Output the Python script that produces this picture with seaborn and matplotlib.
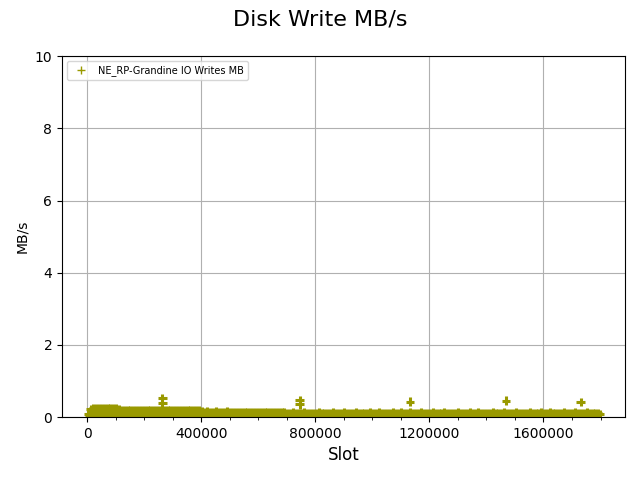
import numpy as np
import pandas as pd
import matplotlib
matplotlib.use("Agg")
import matplotlib.pyplot as plt
import seaborn as sns
from matplotlib.ticker import AutoMinorLocator, MultipleLocator

# Sampled slots: upper edge of the write band every 10000 slots,
# lower edge sampled in between (offset by 5000 slots)
slots_upper = np.arange(2000, 1800000, 10000)
slots_lower = slots_upper + 5000

writes_upper = [
    0.10, 0.22, 0.25, 0.24, 0.25, 0.26, 0.24, 0.25, 0.24, 0.25,
    0.24, 0.21, 0.20, 0.20, 0.19, 0.20, 0.20, 0.19, 0.20, 0.20,
    0.19, 0.20, 0.19, 0.20, 0.20, 0.19, 0.20, 0.19, 0.19, 0.20,
    0.19, 0.19, 0.20, 0.19, 0.19, 0.18, 0.19, 0.19, 0.18, 0.19,
    0.16, 0.15, 0.16, 0.15, 0.15, 0.16, 0.15, 0.15, 0.15, 0.16,
    0.15, 0.15, 0.15, 0.14, 0.15, 0.15, 0.14, 0.15, 0.15, 0.14,
    0.15, 0.14, 0.14, 0.15, 0.14, 0.14, 0.15, 0.14, 0.14, 0.14,
    0.12, 0.12, 0.13, 0.12, 0.12, 0.12, 0.13, 0.12, 0.12, 0.12,
    0.12, 0.13, 0.12, 0.12, 0.12, 0.12, 0.13, 0.12, 0.12, 0.12,
    0.13, 0.12, 0.12, 0.12, 0.13, 0.12, 0.12, 0.12, 0.12, 0.13,
    0.12, 0.12, 0.13, 0.12, 0.12, 0.12, 0.12, 0.13, 0.12, 0.12,
    0.13, 0.12, 0.12, 0.13, 0.12, 0.12, 0.12, 0.13, 0.12, 0.12,
    0.12, 0.13, 0.12, 0.12, 0.12, 0.13, 0.12, 0.12, 0.12, 0.12,
    0.13, 0.12, 0.12, 0.12, 0.13, 0.12, 0.12, 0.13, 0.12, 0.12,
    0.12, 0.12, 0.13, 0.12, 0.12, 0.12, 0.13, 0.12, 0.12, 0.12,
    0.13, 0.12, 0.12, 0.12, 0.12, 0.13, 0.12, 0.12, 0.12, 0.13,
    0.12, 0.12, 0.13, 0.12, 0.12, 0.12, 0.12, 0.13, 0.12, 0.12,
    0.12, 0.13, 0.12, 0.12, 0.12, 0.13, 0.12, 0.12, 0.12, 0.12,
]

writes_lower = [
    0.05, 0.10, 0.09, 0.08, 0.09, 0.08, 0.09, 0.08, 0.09, 0.08,
    0.08, 0.08, 0.07, 0.08, 0.08, 0.07, 0.08, 0.08, 0.07, 0.08,
    0.08, 0.07, 0.08, 0.08, 0.07, 0.08, 0.07, 0.08, 0.08, 0.07,
    0.08, 0.07, 0.08, 0.07, 0.08, 0.08, 0.07, 0.08, 0.07, 0.08,
    0.07, 0.08, 0.07, 0.07, 0.08, 0.07, 0.07, 0.08, 0.07, 0.07,
    0.08, 0.07, 0.07, 0.07, 0.08, 0.07, 0.07, 0.07, 0.08, 0.07,
    0.07, 0.07, 0.08, 0.07, 0.07, 0.07, 0.07, 0.08, 0.07, 0.07,
    0.08, 0.08, 0.07, 0.08, 0.08, 0.08, 0.07, 0.08, 0.08, 0.08,
    0.07, 0.08, 0.08, 0.08, 0.07, 0.08, 0.08, 0.08, 0.08, 0.07,
    0.08, 0.08, 0.07, 0.08, 0.08, 0.08, 0.07, 0.08, 0.08, 0.08,
    0.08, 0.07, 0.08, 0.08, 0.08, 0.07, 0.08, 0.08, 0.08, 0.07,
    0.08, 0.08, 0.08, 0.07, 0.08, 0.08, 0.08, 0.07, 0.08, 0.08,
    0.07, 0.08, 0.08, 0.08, 0.07, 0.08, 0.08, 0.08, 0.07, 0.08,
    0.08, 0.08, 0.07, 0.08, 0.08, 0.08, 0.08, 0.07, 0.08, 0.08,
    0.08, 0.07, 0.08, 0.08, 0.07, 0.08, 0.08, 0.08, 0.07, 0.08,
    0.08, 0.08, 0.07, 0.08, 0.08, 0.08, 0.07, 0.08, 0.08, 0.08,
    0.07, 0.08, 0.08, 0.08, 0.07, 0.08, 0.08, 0.08, 0.08, 0.07,
    0.08, 0.08, 0.07, 0.08, 0.08, 0.08, 0.07, 0.08, 0.08, 0.08,
]

# Occasional write spikes
spike_slots = [264000, 264000, 745000, 745000, 1131000, 1468000, 1730000]
spike_writes = [0.52, 0.40, 0.47, 0.35, 0.43, 0.46, 0.41]

series_name = "NE_RP-Grandine IO Writes MB"
point_color = "#999900"

df = pd.DataFrame({
    "Slot": np.concatenate([slots_upper, slots_lower, spike_slots]),
    "MB/s": np.concatenate([writes_upper, writes_lower, spike_writes]),
})
df["series"] = series_name

fig, ax = plt.subplots(figsize=(6.4, 4.8), dpi=100)
fig.subplots_adjust(left=0.097, right=0.977, top=0.883, bottom=0.131)

sns.scatterplot(data=df, x="Slot", y="MB/s", hue="series", palette=[point_color],
                marker="+", s=36, linewidth=2.2, ax=ax)

fig.suptitle("Disk Write MB/s", fontsize=16)
ax.set_xlabel("Slot", fontsize=12)
ax.set_ylabel("MB/s", fontsize=10)
ax.set_ylim(0, 10)
ax.xaxis.set_major_locator(MultipleLocator(400000))
ax.xaxis.set_minor_locator(AutoMinorLocator(4))
ax.ticklabel_format(axis="x", style="plain")
ax.grid(True, which="major", color="#b0b0b0", linewidth=0.8)
ax.set_axisbelow(True)

# thin '+' in the legend, like the original
leg = ax.legend(loc="upper left", fontsize=7)
for h in leg.legend_handles:
    try:
        h.set_markeredgewidth(1.0)
    except AttributeError:
        h.set_linewidth(1.0)

plt.savefig("out.png", dpi=100)
plt.close()
